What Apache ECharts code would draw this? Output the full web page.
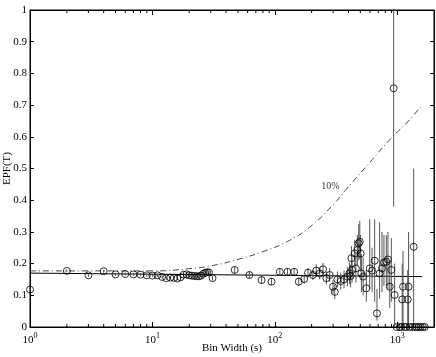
<!DOCTYPE html>
<html>
<head>
<meta charset="utf-8">
<script src="https://cdn.jsdelivr.net/npm/echarts@6/dist/echarts.min.js"></script>
<style>
  html, body { margin: 0; padding: 0; background: #fff; }
  #chart { width: 436px; height: 357px; }
</style>
</head>
<body>
<div id="chart"></div>
<script>
// measured points: bin width (s), EPF(T), error bar low / high
var binWidth = [1, 2, 3, 4, 5, 6, 7, 8, 9, 10, 11, 12, 13, 14, 15, 16, 17, 18, 19, 20,
  21, 22, 23, 24, 25, 26, 27, 28, 29, 31, 47, 62, 78, 94, 110, 127, 144, 157, 174, 187,
  205, 218, 233, 248, 264, 281, 299, 309, 325, 346, 368, 392, 408, 417, 423, 428, 450, 460, 473, 485,
  495, 503, 510, 527, 560, 597, 624, 655, 684, 719, 752, 780, 816, 841, 870, 896, 936, 954, 991, 1050,
  1080, 1100, 1117, 1150, 1180, 1220, 1240, 1260, 1330, 1364, 1391, 1444, 1500, 1558, 1620, 1682];
var epf = [0.118, 0.177, 0.163, 0.176, 0.166, 0.167, 0.166, 0.165, 0.163, 0.162, 0.163, 0.158, 0.154, 0.156, 0.155, 0.153, 0.157, 0.165, 0.166, 0.163,
  0.162, 0.161, 0.160, 0.160, 0.162, 0.168, 0.171, 0.173, 0.172, 0.154, 0.180, 0.164, 0.148, 0.143, 0.174, 0.174, 0.174, 0.143, 0.151, 0.171,
  0.164, 0.178, 0.169, 0.182, 0.154, 0.164, 0.127, 0.111, 0.150, 0.145, 0.150, 0.159, 0.169, 0.161, 0.217, 0.180, 0.232, 0.185, 0.243, 0.264,
  0.269, 0.232, 0.169, 0.159, 0.122, 0.185, 0.178, 0.209, 0.043, 0.169, 0.185, 0.203, 0.206, 0.213, 0.127, 0.180, 0.753, 0.101, 0, 0,
  0, 0.087, 0.127, 0, 0, 0.087, 0.127, 0, 0, 0.253, 0, 0, 0, 0, 0, 0];
var errLow = [0.112, 0.172, 0.158, 0.171, 0.161, 0.162, 0.161, 0.160, 0.158, 0.157, 0.158, 0.153, 0.149, 0.151, 0.150, 0.148, 0.152, 0.160, 0.161, 0.158,
  0.157, 0.156, 0.155, 0.155, 0.157, 0.162, 0.165, 0.167, 0.166, 0.146, 0.168, 0.153, 0.137, 0.132, 0.162, 0.162, 0.162, 0.130, 0.137, 0.156,
  0.148, 0.158, 0.150, 0.162, 0.134, 0.142, 0.105, 0.088, 0.125, 0.118, 0.122, 0.128, 0.135, 0.125, 0.185, 0.140, 0.190, 0.140, 0.195, 0.210,
  0.215, 0.175, 0.110, 0.100, 0.080, 0.120, 0.110, 0.080, 0.020, 0.090, 0.110, 0.130, 0.130, 0.120, 0.060, 0.080, 0.380, 0, 0, 0,
  0, 0, 0, 0, 0, 0, 0, 0, 0, 0, 0, 0, 0, 0, 0, 0];
var errHigh = [0.124, 0.182, 0.168, 0.181, 0.171, 0.172, 0.171, 0.170, 0.168, 0.167, 0.168, 0.163, 0.159, 0.161, 0.160, 0.158, 0.162, 0.170, 0.171, 0.168,
  0.167, 0.166, 0.165, 0.165, 0.167, 0.174, 0.177, 0.179, 0.178, 0.162, 0.192, 0.175, 0.159, 0.154, 0.186, 0.186, 0.186, 0.156, 0.165, 0.186,
  0.180, 0.198, 0.188, 0.202, 0.174, 0.186, 0.149, 0.134, 0.175, 0.172, 0.178, 0.190, 0.203, 0.197, 0.255, 0.220, 0.275, 0.230, 0.290, 0.325,
  0.335, 0.290, 0.230, 0.220, 0.180, 0.340, 0.250, 0.340, 0.120, 0.330, 0.300, 0.290, 0.290, 0.300, 0.210, 0.280, 1.000, 0.200, 0, 0,
  0, 0.200, 0.240, 0, 0, 0.180, 0.300, 0, 0, 0.500, 0, 0, 0, 0, 0, 0];

// 10% curve
var curveX = [1, 3, 10, 20, 33, 52, 83, 133, 200, 310, 385, 600, 915, 1170, 1600];
var curveY = [0.177, 0.177, 0.177, 0.184, 0.196, 0.215, 0.240, 0.274, 0.320, 0.392, 0.435, 0.520, 0.600, 0.640, 0.700];
var curveLabel = { x: 285, y: 0.445, text: '10%' };

// mean level
var meanX = [1, 1600];
var meanY = [0.170, 0.159];

var xMin = 1, xMax = 2000;
var minorTicks = [];
for (var k = 0; k < 4; k++) {
  for (var m = 2; m <= 9; m++) {
    var v = m * Math.pow(10, k);
    if (v < xMax) minorTicks.push(v);
  }
}

var serif = 'Liberation Serif';
var chart = echarts.init(document.getElementById('chart'));

function renderErr(params, api) {
  var x = api.value(0);
  var lo = api.coord([x, api.value(1)]);
  var hi = api.coord([x, api.value(2)]);
  return {
    type: 'line',
    shape: { x1: lo[0], y1: lo[1], x2: hi[0], y2: hi[1] },
    style: { stroke: '#555', lineWidth: 1 }
  };
}

function renderMinor(params, api) {
  var b = api.coord([api.value(0), 0]);
  var t = api.coord([api.value(0), 1]);
  return {
    type: 'group',
    children: [
      { type: 'line', shape: { x1: b[0], y1: b[1], x2: b[0], y2: b[1] - 3 }, style: { stroke: '#000', lineWidth: 1 } },
      { type: 'line', shape: { x1: t[0], y1: t[1], x2: t[0], y2: t[1] + 3 }, style: { stroke: '#000', lineWidth: 1 } }
    ]
  };
}

var axisLine = { show: true, onZero: false, lineStyle: { color: '#000', width: 1 } };

chart.setOption({
  animation: false,
  backgroundColor: '#fff',
  grid: { left: 30, right: 2, top: 10, bottom: 30, containLabel: false, outerBoundsMode: 'none',
    show: true, borderColor: '#000', borderWidth: 1 },
  xAxis: [
    {
      type: 'log', min: xMin, max: xMax, logBase: 10,
      name: 'Bin Width (s)', nameLocation: 'middle', nameGap: 16, nameMoveOverlap: false,
      nameTextStyle: { fontFamily: serif, fontSize: 11, color: '#000' },
      axisLine: axisLine,
      axisTick: { inside: true, length: 5, lineStyle: { color: '#000' } },
      axisLabel: {
        margin: 5, showMaxLabel: false,
        formatter: function (v) { return '{b|10}{s|' + Math.round(Math.log10(v)) + '}'; },
        rich: {
          b: { fontFamily: serif, fontSize: 11, color: '#000', lineHeight: 14, verticalAlign: 'bottom' },
          s: { fontFamily: serif, fontSize: 8, color: '#000', lineHeight: 14, verticalAlign: 'top' }
        }
      },
      splitLine: { show: false }
    },
    {
      type: 'log', min: xMin, max: xMax, logBase: 10, position: 'top',
      axisLine: axisLine,
      axisTick: { inside: true, length: 5, lineStyle: { color: '#000' } },
      axisLabel: { show: false },
      splitLine: { show: false }
    }
  ],
  yAxis: [
    {
      type: 'value', min: 0, max: 1, interval: 0.1,
      name: 'EPF(T)', nameLocation: 'middle', nameGap: 17, nameMoveOverlap: false,
      nameTextStyle: { fontFamily: serif, fontSize: 11, color: '#000' },
      axisLine: axisLine,
      axisTick: { inside: true, length: 4, lineStyle: { color: '#000' } },
      axisLabel: { fontFamily: serif, fontSize: 11, color: '#000', margin: 3 },
      splitLine: { show: false }
    },
    {
      type: 'value', min: 0, max: 1, interval: 0.1, position: 'right',
      axisLine: axisLine,
      axisTick: { inside: true, length: 4, lineStyle: { color: '#000' } },
      axisLabel: { show: false },
      splitLine: { show: false }
    }
  ],
  series: [
    {
      type: 'custom', name: 'minor', renderItem: renderMinor, silent: true,
      data: minorTicks.map(function (v) { return [v]; }),
      encode: { x: 0 }
    },
    {
      type: 'line', name: 'curve', symbol: 'none', smooth: true, silent: true,
      lineStyle: { color: '#444', width: 1, type: [6, 3, 1, 3] },
      data: curveX.map(function (x, i) { return [x, curveY[i]]; }),
      z: 2
    },
    {
      type: 'line', name: 'mean', symbol: 'none', silent: true,
      lineStyle: { color: '#000', width: 1 },
      data: meanX.map(function (x, i) { return [x, meanY[i]]; }),
      z: 2
    },
    {
      type: 'custom', name: 'err', renderItem: renderErr, silent: true,
      data: binWidth.map(function (x, i) { return [x, errLow[i], errHigh[i]]; }),
      encode: { x: 0, y: [1, 2] },
      z: 3
    },
    {
      type: 'scatter', name: 'EPF', symbol: 'circle', symbolSize: 7,
      itemStyle: { color: 'rgba(0,0,0,0)', borderColor: '#000', borderWidth: 1 },
      data: binWidth.map(function (x, i) { return [x, epf[i]]; }),
      z: 4
    },
    {
      type: 'scatter', name: 'label', symbolSize: 0, silent: true,
      xAxisIndex: 1, yAxisIndex: 1,
      data: [[curveLabel.x, curveLabel.y]],
      label: { show: true, position: 'inside', formatter: curveLabel.text, fontFamily: serif, fontSize: 10, color: '#000' }
    }
  ]
});
</script>
</body>
</html>
